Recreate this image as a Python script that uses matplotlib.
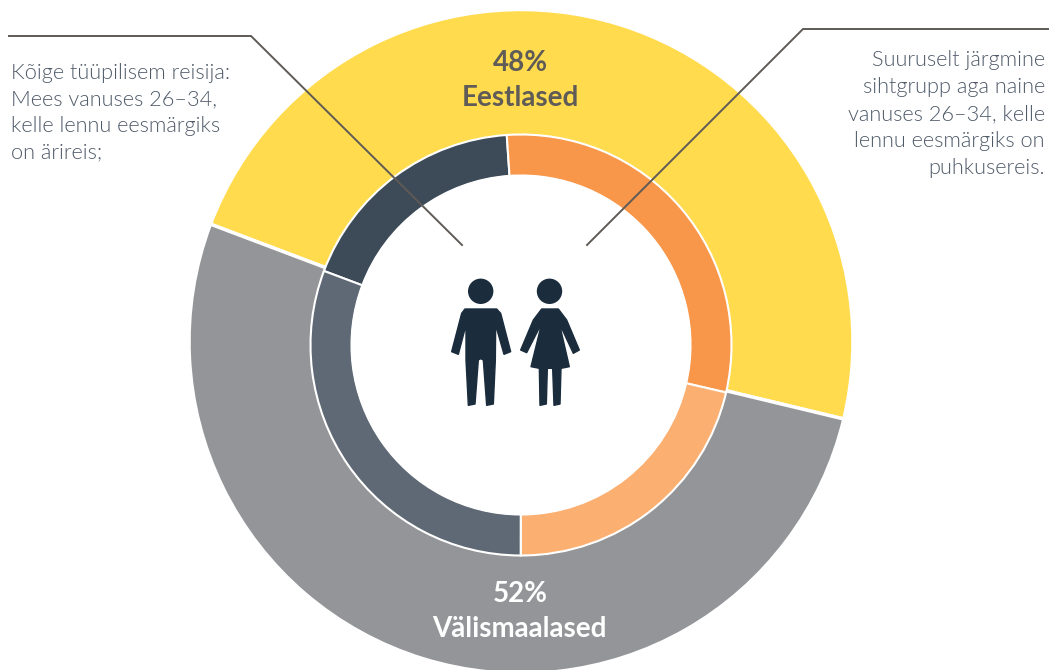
import matplotlib
matplotlib.use("Agg")
import matplotlib.pyplot as plt
from matplotlib import font_manager as fm
from matplotlib.patches import Polygon, Circle

W, H = 1049, 670

outer_labels = ["Eestlased", "Välismaalased"]
outer_values = [48, 52]
outer_colors = ["#FFDB4D", "#939598"]

inner_values = [18.2, 29.7, 21.4, 30.7]
inner_colors = ["#3D4A58", "#F8974A", "#FBB072", "#5F6975"]

left_text = "Kõige tüüpilisem reisija:\nMees vanuses 26–34,\nkelle lennu eesmärgiks\non ärireis;"
right_text = "Suuruselt järgmine\nsihtgrupp aga naine\nvanuses 26–34, kelle\nlennu eesmärgiks on\npuhkusereis."

plt.rcParams['font.family'] = ['Lato', 'DejaVu Sans']

light_files = [f.fname for f in fm.fontManager.ttflist
               if f.name.startswith('Lato') and f.fname.endswith('Lato-Light.ttf')]
if light_files:
    light = fm.FontProperties(fname=light_files[0], size=15.7)
else:
    light = fm.FontProperties(family='Lato', weight='regular', size=15.7)

fig = plt.figure(figsize=(W / 100, H / 100), dpi=100, facecolor="white")
ax = fig.add_axes([0, 0, 1, 1])


def Y(y):
    return H - y


ax.pie(outer_values, colors=outer_colors, radius=332, center=(521, Y(341.5)),
       startangle=159.3, counterclock=False, frame=True,
       wedgeprops=dict(edgecolor="white", linewidth=2.5))
ax.pie(inner_values, colors=inner_colors, radius=210.5, center=(521, Y(345)),
       startangle=159.4, counterclock=False, frame=True,
       wedgeprops=dict(width=41, edgecolor="white", linewidth=1.5))
ax.add_patch(Circle((521, Y(345)), 170, fc="white", ec="none", zorder=3))

ax.set_xlim(0, W)
ax.set_ylim(0, H)
ax.set_aspect("equal")
ax.axis("off")

line_color = "#5E5A56"
ax.plot([9, 251, 462], [Y(36), Y(36), Y(245)], color=line_color, lw=1.4, zorder=5,
        solid_joinstyle="miter")
ax.plot([1049, 803, 587], [Y(29), Y(29), Y(245)], color=line_color, lw=1.4, zorder=5,
        solid_joinstyle="miter")

text_color = "#4E5A68"
for i, line in enumerate(left_text.split("\n")):
    ax.text(11, Y(79 + 26.5 * i), line, ha="left", va="baseline", fontproperties=light,
            color=text_color, zorder=6)
for i, line in enumerate(right_text.split("\n")):
    ax.text(1045, Y(66 + 27 * i), line, ha="right", va="baseline", fontproperties=light,
            color=text_color, zorder=6)

dark_label = "#5F5B57"
ax.text(520.5, Y(71), f"{outer_values[0]}%", ha="center", va="baseline", fontsize=20,
        fontweight="bold", color=dark_label, zorder=6)
ax.text(520.5, Y(105.5), outer_labels[0], ha="center", va="baseline", fontsize=20,
        fontweight="bold", color=dark_label, zorder=6)
ax.text(520, Y(602), f"{outer_values[1]}%", ha="center", va="baseline", fontsize=20,
        fontweight="bold", color="white", zorder=6)
ax.text(519.5, Y(637), outer_labels[1], ha="center", va="baseline", fontsize=20,
        fontweight="bold", color="white", zorder=6)

icon = "#1B2C3D"


def Z(pts):
    return [(430 + x / 3, Y(260 + y / 3)) for x, y in pts]


man = [(105, 147), (200, 147), (212, 160), (242, 275), (222, 283), (197, 195), (196, 300),
       (190, 432), (170, 436), (160, 300), (152, 296), (145, 300), (135, 432), (115, 436),
       (108, 300), (108, 195), (85, 283), (65, 275), (95, 160)]
woman = [(335, 147), (385, 147), (410, 180), (448, 270), (430, 280), (388, 190), (418, 320),
         (393, 325), (390, 432), (372, 436), (368, 325), (352, 325), (349, 432), (330, 436),
         (328, 325), (303, 320), (335, 190), (290, 278), (272, 270), (310, 180)]
for poly in (man, woman):
    ax.add_patch(Polygon(Z(poly), closed=True, fc=icon, ec=icon, lw=1.0, joinstyle="round", zorder=6))
ax.add_patch(Circle((480.7, Y(291.3)), 12.7, fc=icon, ec="none", zorder=6))
ax.add_patch(Circle((549.5, Y(291.3)), 12.7, fc=icon, ec="none", zorder=6))

fig.savefig("out.png", dpi=100, facecolor="white")
